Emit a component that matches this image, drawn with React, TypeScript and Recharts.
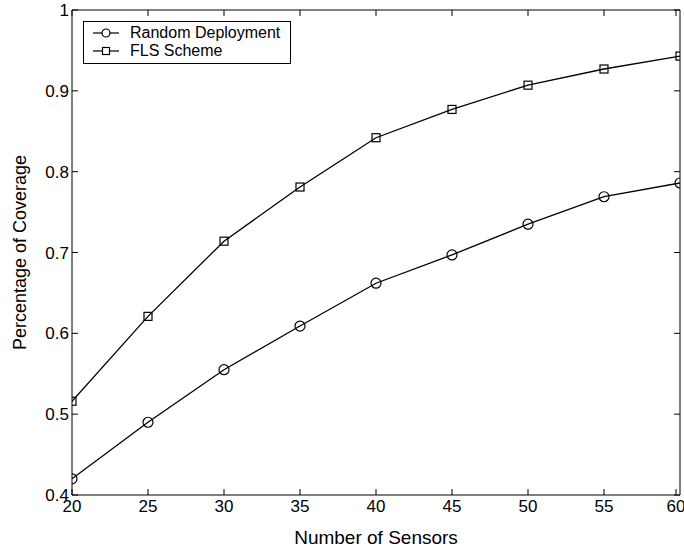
import {
  LineChart,
  Line,
  XAxis,
  YAxis,
  Legend,
} from "recharts";

// Sensor counts on the x axis
const sensors = [20, 25, 30, 35, 40, 45, 50, 55, 60];

// Coverage fraction for each deployment strategy
const randomDeployment = [0.42, 0.49, 0.555, 0.609, 0.662, 0.697, 0.735, 0.769, 0.786];
const flsScheme = [0.516, 0.621, 0.714, 0.781, 0.842, 0.877, 0.907, 0.927, 0.943];

const xTicks = [20, 25, 30, 35, 40, 45, 50, 55, 60];
const yTicks = [0.4, 0.5, 0.6, 0.7, 0.8, 0.9, 1];

const data = sensors.map((n, i) => ({
  n,
  random: randomDeployment[i],
  fls: flsScheme[i],
}));

const FONT = "'Liberation Sans', Arial, Helvetica, sans-serif";
const TICK_LEN = 6;
const X_MARGIN = 5;
const Y_MARGIN = 3;
const X_DOMAIN = [20, 60];
const Y_DOMAIN = [0.4, 1];

const CircleDot = ({ cx, cy }: any) =>
  cx == null || cy == null ? null : (
    <circle cx={cx} cy={cy} r={5} fill="none" stroke="#000" strokeWidth={1.2} />
  );

const SquareDot = ({ cx, cy }: any) =>
  cx == null || cy == null ? null : (
    <rect x={cx - 4} y={cy - 4} width={8} height={8} fill="none" stroke="#000" strokeWidth={1.2} />
  );

// bottom axis: label below the axis, tick mark pointing into the plot
const BottomTick = ({ x, y, payload }: any) => {
  const axisY = y - X_MARGIN;
  return (
    <g>
      <line x1={x} y1={axisY} x2={x} y2={axisY - TICK_LEN} stroke="#000" />
      <text x={x} y={y} dy="0.71em" textAnchor="middle" fill="#000" fontSize={17} fontFamily={FONT}>
        {payload.value}
      </text>
    </g>
  );
};

// left axis: label left of the axis, tick mark pointing into the plot
const LeftTick = ({ x, y, payload }: any) => {
  const axisX = x + Y_MARGIN;
  return (
    <g>
      <line x1={axisX} y1={y} x2={axisX + TICK_LEN} y2={y} stroke="#000" />
      <text x={x} y={y} dy="0.36em" textAnchor="end" fill="#000" fontSize={17} fontFamily={FONT}>
        {String(Number(Number(payload.value).toFixed(1)))}
      </text>
    </g>
  );
};

// top and right frame: tick marks only, pointing inward
const TopTick = ({ x, y }: any) => (
  <line x1={x} y1={y} x2={x} y2={y + TICK_LEN} stroke="#000" />
);

const RightTick = ({ x, y }: any) => (
  <line x1={x} y1={y} x2={x - TICK_LEN} y2={y} stroke="#000" />
);

const LegendBox = () => (
  <div
    style={{
      border: "1px solid #000",
      background: "#fff",
      width: 206,
      height: 39,
      paddingTop: 2,
      boxSizing: "content-box",
      fontFamily: FONT,
      fontSize: 16,
      lineHeight: "18px",
      color: "#000",
    }}
  >
    {[
      { name: "Random Deployment", shape: "circle" },
      { name: "FLS Scheme", shape: "square" },
    ].map((item) => (
      <div key={item.name} style={{ display: "flex", alignItems: "center", height: 18 }}>
        <svg width={38} height={18} style={{ marginLeft: 7 }}>
          <line x1={2} y1={9} x2={28} y2={9} stroke="#000" strokeWidth={1.2} />
          {item.shape === "circle" ? (
            <circle cx={15} cy={9} r={4} fill="#fff" stroke="#000" strokeWidth={1.2} />
          ) : (
            <rect x={11.5} y={5.5} width={7} height={7} fill="#fff" stroke="#000" strokeWidth={1.2} />
          )}
        </svg>
        <span style={{ marginLeft: 1 }}>{item.name}</span>
      </div>
    ))}
  </div>
);

export default function App() {
  return (
    <div style={{ position: "absolute", left: 0, top: 0, width: 684, height: 550, background: "#fff" }}>
      <LineChart
        width={684}
        height={550}
        data={data}
        margin={{ top: 9, right: 3, left: 0, bottom: 0 }}
      >
        <XAxis
          dataKey="n"
          type="number"
          domain={X_DOMAIN}
          ticks={xTicks}
          stroke="#000"
          tickLine={false}
          tickSize={0}
          tickMargin={X_MARGIN}
          height={55}
          tick={<BottomTick />}
          allowDataOverflow
          label={{
            value: "Number of Sensors",
            position: "insideBottom",
            offset: 6,
            fill: "#000",
            fontSize: 19,
            fontFamily: FONT,
          }}
        />
        <XAxis
          xAxisId="top"
          dataKey="n"
          type="number"
          orientation="top"
          domain={X_DOMAIN}
          ticks={xTicks}
          stroke="#000"
          tickLine={false}
          tickSize={0}
          tickMargin={0}
          height={1}
          tick={<TopTick />}
          allowDataOverflow
        />
        <YAxis
          type="number"
          domain={Y_DOMAIN}
          ticks={yTicks}
          stroke="#000"
          tickLine={false}
          tickSize={0}
          tickMargin={Y_MARGIN}
          width={72}
          tick={<LeftTick />}
          allowDataOverflow
          label={{
            value: "Percentage of Coverage",
            angle: -90,
            position: "insideLeft",
            offset: 20,
            style: { textAnchor: "middle" },
            fill: "#000",
            fontSize: 18,
            fontFamily: FONT,
          }}
        />
        <YAxis
          yAxisId="right"
          orientation="right"
          type="number"
          domain={Y_DOMAIN}
          ticks={yTicks}
          stroke="#000"
          tickLine={false}
          tickSize={0}
          tickMargin={0}
          width={1}
          tick={<RightTick />}
          allowDataOverflow
        />
        <Legend
          layout="vertical"
          align="center"
          verticalAlign="middle"
          content={<LegendBox />}
          wrapperStyle={{ left: 83, top: 21, width: "auto" }}
        />
        {/* both frames share the same domains, so each series can hang off one of the mirror axes */}
        <Line
          dataKey="random"
          name="Random Deployment"
          yAxisId="right"
          stroke="#000"
          strokeWidth={1.3}
          dot={<CircleDot />}
          isAnimationActive={false}
        />
        <Line
          dataKey="fls"
          name="FLS Scheme"
          xAxisId="top"
          stroke="#000"
          strokeWidth={1.3}
          dot={<SquareDot />}
          isAnimationActive={false}
        />
      </LineChart>
    </div>
  );
}
